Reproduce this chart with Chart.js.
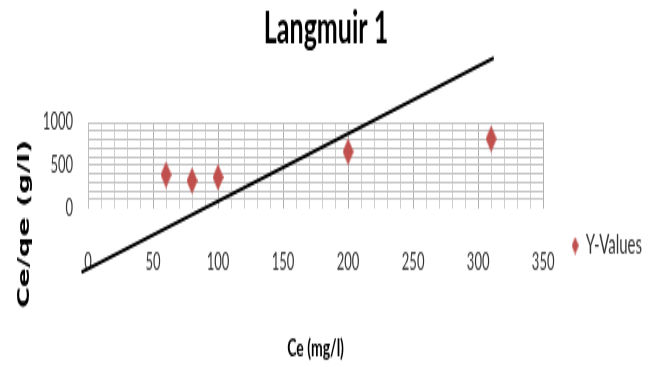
<!DOCTYPE html>
<html><head><meta charset="utf-8">
<script src="https://cdn.jsdelivr.net/npm/chart.js@4"></script>
<style>html,body{margin:0;padding:0;background:#fff;overflow:hidden}</style>
</head><body>
<canvas id="c" width="653" height="204" style="width:653px;height:367px"></canvas>
<script>
// ---- data ----
const ceValues = [60, 80, 100, 200, 310];          // Ce (mg/l)
const ceQeValues = [390, 320, 360, 660, 810];      // Ce/qe (g/l)
const trendCe = [-5, 312];                         // linear trendline x
const trendCeQe = [-750, 1755];                    // linear trendline y
const xTickLabels = [0, 50, 100, 150, 200, 250, 300, 350];
const yTickLabels = [0, 500, 1000];
const chartTitle = 'Langmuir 1';
const xTitle = 'Ce (mg/l)';
const yTitle = 'Ce/qe (g/l)';
const seriesName = 'Y-Values';

// ---- layout (canvas bitmap is stretched vertically to 367px) ----
const W = 653, H = 204, S = 367 / H;
const areaTop = 122.5 / S, areaBottom = 208 / S;
const RED = '#C0504D';

function diamond(w, h) {
  const c = document.createElement('canvas');
  c.width = w; c.height = h;
  const g = c.getContext('2d');
  g.fillStyle = RED;
  g.beginPath();
  g.moveTo(w / 2, 0); g.lineTo(w, h / 2); g.lineTo(w / 2, h); g.lineTo(0, h / 2);
  g.closePath(); g.fill();
  return c;
}
const pointImg = diamond(11, 15);
const legendImg = diamond(7, 10);

const points = ceValues.map((x, i) => ({x, y: ceQeValues[i]}));
const trend = trendCe.map((x, i) => ({x, y: trendCeQe[i]}));

const yTitlePlugin = {
  id: 'yTitle',
  afterDraw(chart) {
    const ctx = chart.ctx;
    ctx.save();
    ctx.translate(25, 224 / S);
    ctx.rotate(-Math.PI / 2);
    ctx.font = 'bold 16px "DejaVu Sans"';
    ctx.fillStyle = '#000';
    ctx.textAlign = 'center';
    ctx.textBaseline = 'middle';
    ctx.fillText(yTitle, 0, 0);
    ctx.restore();
  }
};

new Chart(document.getElementById('c'), {
  type: 'scatter',
  data: {
    datasets: [
      {
        label: seriesName,
        data: points,
        pointStyle: pointImg,
        pointRadius: 6,
        backgroundColor: RED,
        borderColor: RED,
        showLine: false,
        order: 1
      },
      {
        label: 'trend',
        data: trend,
        showLine: true,
        borderColor: '#000',
        borderWidth: 2,
        pointRadius: 0,
        clip: false,
        order: 0
      }
    ]
  },
  options: {
    responsive: false,
    devicePixelRatio: 1,
    animation: false,
    events: [],
    layout: { padding: { left: 0, right: 1, top: 0, bottom: 0 } },
    scales: {
      x: {
        type: 'linear', min: 0, max: 350,
        afterFit: s => { s.height = H - areaBottom; },
        border: { display: false },
        grid: {
          drawTicks: false,
          color: c => (c.tick && c.tick.value % 50 === 0) ? '#b0b0b0' : '#cfcfcf',
          lineWidth: 1
        },
        ticks: {
          stepSize: 10, autoSkip: false, maxRotation: 0, minRotation: 0,
          padding: 22,
          color: '#333',
          font: { family: 'Lato', size: 13 },
          callback: v => xTickLabels.includes(v) ? String(v) : ''
        },
        title: {
          display: true, text: xTitle, color: '#000',
          font: { family: 'Lato', size: 14, weight: 'bold' },
          padding: { top: 0, bottom: 2 }
        }
      },
      y: {
        type: 'linear', min: 0, max: 1000,
        afterFit: s => { s.width = 88; },
        border: { display: true, color: '#bdbdbd' },
        grid: {
          drawTicks: false,
          color: c => (c.tick && c.tick.value === 0) ? 'rgba(0,0,0,0)' : '#c4c4c4',
          lineWidth: 1
        },
        ticks: {
          stepSize: 100, autoSkip: false,
          padding: 15,
          color: '#333',
          font: { family: 'Lato', size: 13 },
          callback: v => yTickLabels.includes(v) ? String(v) : ''
        },
        title: { display: false, text: yTitle }
      }
    },
    plugins: {
      title: {
        display: true, text: chartTitle, color: '#000',
        font: { family: 'Lato', size: 25, weight: 'bold' },
        padding: { top: 0.5, bottom: areaTop - 0.5 - 30 }
      },
      legend: {
        display: true, position: 'right', align: 'start',
        title: { display: true, text: '', font: { size: 12 }, padding: { top: 129 - 29 - 14.4, bottom: 0 } },
        labels: {
          filter: item => item.text === seriesName,
          usePointStyle: true,
          pointStyle: legendImg,
          pointStyleWidth: 6,
          padding: 29,
          color: '#333',
          font: { family: 'Lato', size: 15 }
        }
      },
      tooltip: { enabled: false }
    }
  },
  plugins: [yTitlePlugin]
});
</script>
</body></html>
